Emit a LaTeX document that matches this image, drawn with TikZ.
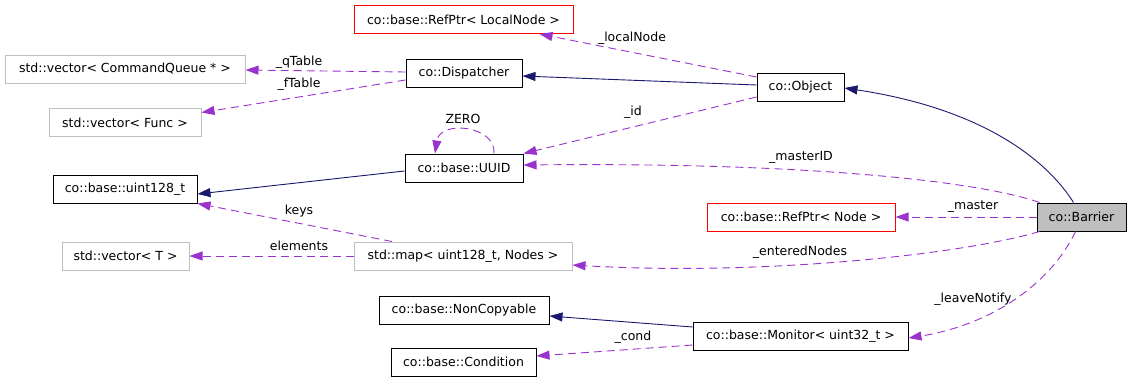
\documentclass[tikz,border=0pt]{standalone}
\usepackage{fontspec}
\setmainfont{DejaVu Sans}
\usetikzlibrary{arrows.meta}

\definecolor{edgeblue}{HTML}{191970}
\definecolor{edgeviolet}{HTML}{9A32CD}
\definecolor{lightframe}{HTML}{BFBFBF}
\definecolor{focusfill}{HTML}{BFBFBF}

\tikzset{
  lbl/.style={font=\fontsize{12.5}{14}\selectfont, inner sep=0pt},
  cls/.style={lbl, draw=black, line width=1pt, minimum height=28pt, fill=white},
  greycls/.style={cls, draw=lightframe},
  redcls/.style={cls, draw=red},
  focuscls/.style={cls, fill=focusfill},
  tip/.style={-{Triangle[length=13pt,width=9pt]}},
  inherit/.style={tip, draw=edgeblue, line width=0.9pt},
  member/.style={tip, draw=edgeviolet, line width=0.9pt,
    dash pattern=on 8pt off 5pt},
}

\begin{document}
\begin{tikzpicture}[x=1pt, y=-1pt]
\useasboundingbox (0,0) rectangle (1131,383);

% classes
\node[redcls,  minimum width=219pt] (lnode) at (463.5,19.5) {co::base::RefPtr< LocalNode >};
\node[greycls, minimum width=240pt] (cq)    at (125,69)     {std::vector< CommandQueue * >};
\node[cls,     minimum width=116pt] (disp)  at (464,73)     {co::Dispatcher};
\node[cls,     minimum width=87pt]  (obj)   at (800.5,87)   {co::Object};
\node[greycls, minimum width=152pt] (func)  at (125,122.5)  {std::vector< Func >};
\node[cls,     minimum width=118pt] (uuid)  at (464,168)    {co::base::UUID};
\node[cls,     minimum width=144pt] (uint)  at (125,189)    {co::base::uint128\_t};
\node[redcls,  minimum width=188pt] (rnode) at (801,217)    {co::base::RefPtr< Node >};
\node[focuscls,minimum width=89pt]  (bar)   at (1081.5,217) {co::Barrier};
\node[greycls, minimum width=127pt] (vect)  at (125.5,256)  {std::vector< T >};
\node[greycls, minimum width=218pt] (map)   at (463,256)    {std::map< uint128\_t, Nodes >};
\node[cls,     minimum width=170pt] (nc)    at (464,310)    {co::base::NonCopyable};
\node[cls,     minimum width=215pt] (mon)   at (800.5,336)  {co::base::Monitor< uint32\_t >};
\node[cls,     minimum width=145pt] (cond)  at (463.5,362)  {co::base::Condition};

% inheritance
\draw[inherit] ([xshift=-8pt]bar.north) .. controls (1050,165) and (990,110) .. ([yshift=-1pt]obj.east);
\draw[inherit] ([yshift=2pt]obj.west) -- ([yshift=-3pt]disp.east);
\draw[inherit] ([yshift=-3pt]uuid.west) -- ([yshift=-5pt]uint.east);
\draw[inherit] ([yshift=9pt]mon.west) -- ([yshift=-6pt]nc.east);

% members
\draw[member] ([yshift=10pt]obj.west) -- ([xshift=76pt]lnode.south);
\node[lbl] (l-local) at (632,38) {\_localNode};

\draw[member] ([yshift=-10pt]obj.west) -- (uuid.north east);
\node[lbl] (l-id) at (633,112) {\_id};

\draw[member] ([xshift=30pt]uuid.north) .. controls +(2,-28) and +(5,-34) .. ([xshift=-29pt]uuid.north);
\node[lbl] (l-zero) at (463,119) {ZERO};

\draw[member] ([yshift=1pt]disp.west) -- ([yshift=-1pt]cq.east);
\node[lbl] (l-q) at (299,62) {\_qTable};

\draw[member] ([yshift=-7pt]disp.west) -- ([yshift=10pt]func.east);
\node[lbl] (l-f) at (299,84) {\_fTable};

\draw[member] ([xshift=3pt]bar.north west) .. controls (985,183) and (820,162) .. ([yshift=3pt]uuid.east);
\node[lbl] (l-mid) at (801,157) {\_masterID};

\draw[member] (bar.west) -- (rnode.east);
\node[lbl] (l-master) at (973,207) {\_master};

\draw[member] ([xshift=3pt]bar.south west) .. controls (960,255) and (760,276) .. ([yshift=-9pt]map.east);
\node[lbl] (l-entered) at (800,252) {\_enteredNodes};

\draw[member] ([xshift=-71pt]map.north) -- (uint.south east);
\node[lbl] (l-keys) at (299,211) {keys};

\draw[member] (map.west) -- (vect.east);
\node[lbl] (l-elem) at (299,246) {elements};

\draw[member] ([yshift=-9pt]mon.west) -- ([yshift=6pt]cond.east);
\node[lbl] (l-cond) at (633,337) {\_cond};

\draw[member] ([xshift=-6pt]bar.south) .. controls (1050,285) and (990,325) .. ([yshift=-2pt]mon.east);
\node[lbl] (l-leave) at (973,299) {\_leaveNotify};
\end{tikzpicture}
\end{document}
